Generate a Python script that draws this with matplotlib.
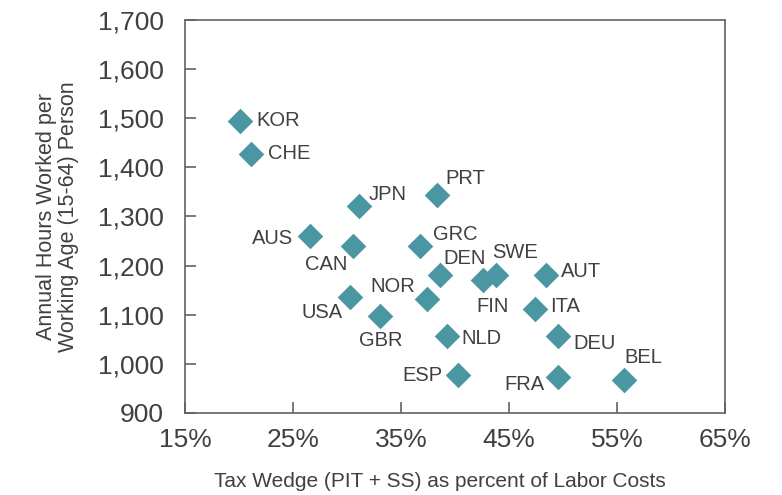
import matplotlib
matplotlib.use("Agg")
import matplotlib.pyplot as plt
from matplotlib.ticker import FuncFormatter

plt.rcParams['font.family'] = ['Liberation Sans', 'DejaVu Sans']

# data
countries = ['KOR', 'CHE', 'JPN', 'PRT', 'AUS', 'CAN', 'GRC', 'DEN', 'FIN', 'SWE',
             'AUT', 'USA', 'NOR', 'ITA', 'GBR', 'NLD', 'DEU', 'ESP', 'FRA', 'BEL']
tax_wedge = [20.1, 21.1, 31.1, 38.3, 26.6, 30.6, 36.8, 38.6, 42.6, 43.8,
             48.4, 30.3, 37.4, 47.4, 33.1, 39.3, 49.5, 40.3, 49.5, 55.7]
hours = [1495, 1428, 1321, 1344, 1261, 1240, 1240, 1181, 1170, 1181,
         1181, 1136, 1132, 1111, 1097, 1056, 1056, 977, 973, 967]

# label placement: (dx px, dy px, horizontal alignment)
label_pos = {
    'KOR': (16, 0, 'left'), 'CHE': (17, 0, 'left'), 'JPN': (10, 12, 'left'),
    'PRT': (9, 16, 'left'), 'AUS': (-17, -3, 'right'), 'CAN': (-6, -19, 'right'),
    'GRC': (13, 11, 'left'), 'DEN': (4, 16, 'left'), 'FIN': (-7, -26, 'left'),
    'SWE': (-4, 22, 'left'), 'AUT': (15, 3, 'left'), 'USA': (-8, -15, 'right'),
    'NOR': (-12, 13, 'right'), 'ITA': (15, 3, 'left'), 'GBR': (0, -24, 'center'),
    'NLD': (14, -2, 'left'), 'DEU': (16, -7, 'left'), 'ESP': (-16, 0, 'right'),
    'FRA': (-13, -7, 'right'), 'BEL': (0, 23, 'left'),
}

teal = '#4A96A3'
txt = '#404040'
axis_col = '#626262'

fig = plt.figure(figsize=(7.82, 4.95), dpi=100)
ax = fig.add_axes([0.2366, 0.1657, 0.927 - 0.2366, 0.9596 - 0.1657])

ax.scatter(tax_wedge, hours, marker='D', s=170, color=teal, linewidths=0, zorder=3)

for c, x, y in zip(countries, tax_wedge, hours):
    dx, dy, ha = label_pos[c]
    ax.annotate(c, (x, y), xytext=(dx, dy), textcoords='offset pixels',
                ha=ha, va='center', fontsize=14.5, color=txt)

ax.set_xlim(15, 65)
ax.set_ylim(900, 1700)
ax.set_xticks([15, 25, 35, 45, 55, 65])
ax.set_yticks(range(900, 1701, 100))
ax.xaxis.set_major_formatter(FuncFormatter(lambda v, p: f'{v:.0f}%'))
ax.yaxis.set_major_formatter(FuncFormatter(lambda v, p: f'{v:,.0f}'))

for sp in ax.spines.values():
    sp.set_color(axis_col)
    sp.set_linewidth(1.2)
ax.tick_params(axis='both', direction='in', color=axis_col, width=1.2, labelsize=19,
               labelcolor=txt)
ax.tick_params(axis='y', length=8, pad=15)
ax.tick_params(axis='x', length=8, pad=11)

ax.set_xlabel('Tax Wedge (PIT + SS) as percent of Labor Costs', fontsize=15,
              color=txt)
ax.xaxis.set_label_coords(0.472, -0.15)
ax.set_ylabel('Annual Hours Worked per\nWorking Age (15-64) Person', fontsize=15.5,
              color=txt, labelpad=14, linespacing=1.05)

fig.savefig('out.png', dpi=100)
